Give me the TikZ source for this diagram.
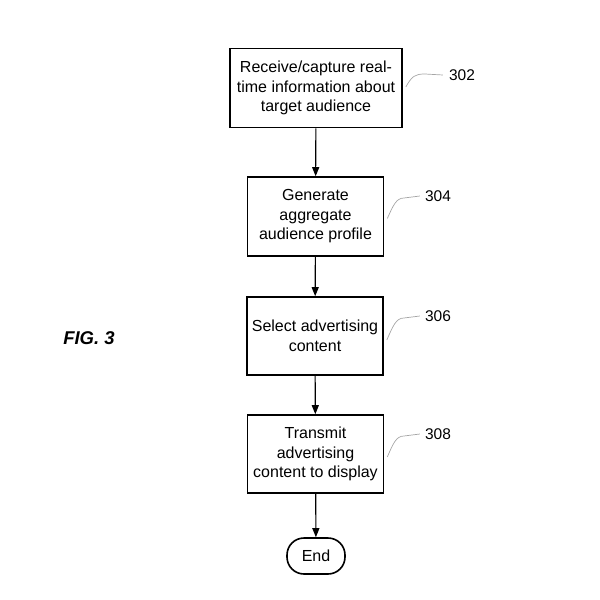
\documentclass[tikz,border=0pt]{standalone}
\usepackage{fontspec}
\setmainfont{Liberation Sans}
\usetikzlibrary{arrows.meta}
\begin{document}
\begin{tikzpicture}[x=1pt,y=-1pt,
  stepbox/.style={draw,line width=1.6pt,align=center,inner sep=0pt,
    font=\fontsize{16}{19.5}\selectfont},
  flow/.style={draw,line width=1.1pt,-{Triangle[length=9pt,width=7pt]}},
  leader/.style={draw=gray!70,line width=0.7pt},
  reflabel/.style={font=\fontsize{15.5}{17}\selectfont,inner sep=0pt}]
\useasboundingbox (0,0) rectangle (600,600);
\node[stepbox,minimum width=172pt,minimum height=79pt] (b1) at (316,88)
  {Receive/capture real-\\time information about\\target audience};
\node[stepbox,minimum width=136pt,minimum height=79pt] (b2) at (315.5,216.5)
  {Generate\\aggregate\\audience profile};
\node[stepbox,minimum width=136pt,minimum height=78pt] (b3) at (315,336)
  {Select advertising\\content};
\node[stepbox,minimum width=136pt,minimum height=78pt] (b4) at (315.5,454)
  {Transmit\\advertising\\content to display};
\node[stepbox,minimum width=58pt,minimum height=36pt,rounded corners=17pt] (end) at (316,556) {End};
\draw[flow] (b1) -- (b2);
\draw[flow] (b2) -- (b3);
\draw[flow] (b3) -- (b4);
\draw[flow] (b4) -- (end);
\node[reflabel] (l1) at (462,75) {302};
\node[reflabel] (l2) at (438,196) {304};
\node[reflabel] (l3) at (438,316) {306};
\node[reflabel] (l4) at (438,434) {308};
\draw[leader] ([xshift=3pt,yshift=1pt]b1.east) .. controls (412,76) and (415,74) .. (425,74) -- ([xshift=-6pt]l1.west);
\draw[leader] ([xshift=3pt,yshift=-2pt]b2.east) .. controls (393,206) and (396,198) .. (404,198) -- ([xshift=-5pt]l2.west);
\draw[leader] ([xshift=3pt,yshift=-4pt]b3.east) .. controls (393,326) and (396,318) .. (404,318) -- ([xshift=-5pt]l3.west);
\draw[leader] ([xshift=3pt,yshift=-3pt]b4.east) .. controls (393,444) and (396,436) .. (404,436) -- ([xshift=-5pt]l4.west);
\node[font=\fontsize{18.5}{20}\selectfont\bfseries\itshape] (fig) at (89,338) {FIG. 3};
\end{tikzpicture}
\end{document}
